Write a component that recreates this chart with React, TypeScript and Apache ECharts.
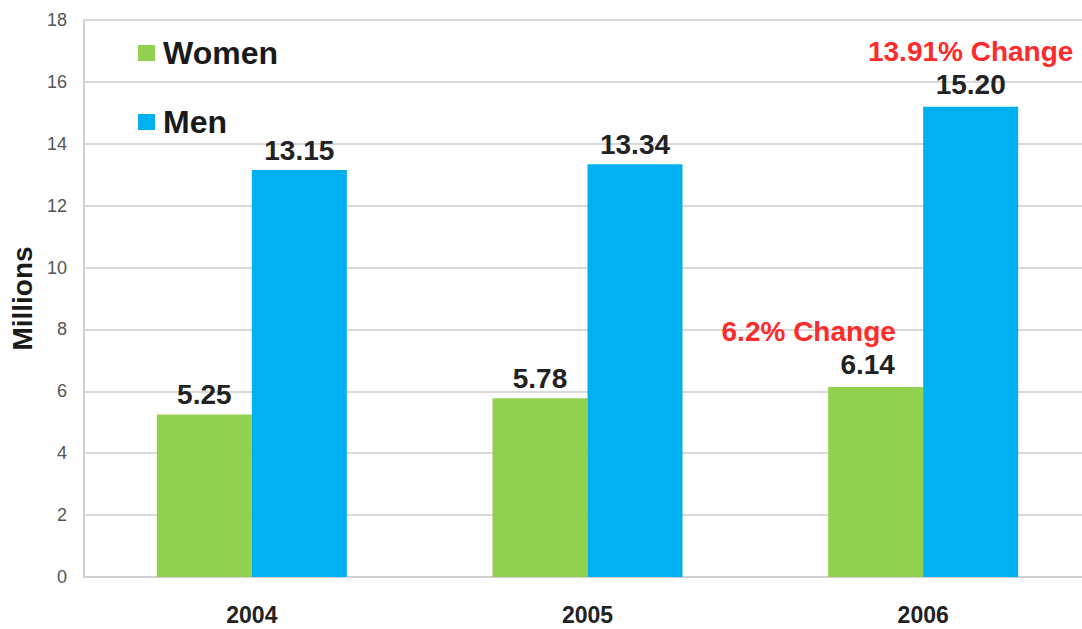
import React, { useEffect, useRef } from "react";
import * as echarts from "echarts";

const categories = ["2004", "2005", "2006"];
const womenValues = [5.25, 5.78, 6.14];
const menValues = [13.15, 13.34, 15.2];
const womenChange = ["", "", "6.2% Change"];
const menChange = ["", "", "13.91% Change"];
const yMin = 0;
const yMax = 18;
const yInterval = 2;

const FONT = "'Liberation Sans', Arial, Helvetica, sans-serif";
const GREEN = "#92d050";
const BLUE = "#00b0f0";
const RED = "#ff2a2a";

function buildData(values: number[], notes: string[], shiftNote: number, valueOffset: number) {
  return values.map((v, i) => {
    const item: any = { value: v };
    if (notes[i]) {
      item.label = {
        formatter: (p: any) => `{r|${notes[i]}}\n{v|${Number(p.value).toFixed(2)}}`,
        offset: [valueOffset, 0],
        rich: {
          r: {
            fontFamily: FONT,
            fontSize: 28,
            fontWeight: "bold",
            color: RED,
            lineHeight: 33,
            padding: [0, shiftNote, 0, 0],
          },
          v: {
            fontFamily: FONT,
            fontSize: 28,
            fontWeight: "bold",
            color: "#222",
            lineHeight: 33,
          },
        },
      };
    }
    return item;
  });
}

export default function App() {
  const ref = useRef<HTMLDivElement>(null);
  useEffect(() => {
    if (!ref.current) return;
    const chart = echarts.init(ref.current, undefined, { renderer: "svg" });
    const valueLabel = {
      show: true,
      position: "top",
      distance: 6,
      fontFamily: FONT,
      fontSize: 28,
      fontWeight: "bold",
      color: "#222",
      formatter: (p: any) => Number(p.value).toFixed(2),
    };
    chart.setOption({
      animation: false,
      backgroundColor: "#ffffff",
      textStyle: { fontFamily: FONT },
      grid: { left: 84, top: 20, right: 0, bottom: 52 },
      legend: {
        orient: "vertical",
        left: 133,
        top: 32,
        itemGap: 37,
        itemWidth: 17,
        itemHeight: 16,
        icon: "rect",
        selectedMode: false,
        data: ["Women", "Men"],
        textStyle: {
          fontFamily: FONT,
          fontSize: 32,
          fontWeight: "bold",
          color: "#1a1a1a",
          padding: [0, 0, 0, 3],
        },
      },
      xAxis: {
        type: "category",
        data: categories,
        axisLine: { show: true, lineStyle: { color: "#d0d0d0", width: 2 } },
        axisTick: { show: false },
        axisLabel: {
          margin: 26,
          fontFamily: FONT,
          fontSize: 23,
          fontWeight: "bold",
          color: "#222",
        },
      },
      yAxis: {
        type: "value",
        min: yMin,
        max: yMax,
        interval: yInterval,
        name: "Millions",
        nameLocation: "middle",
        nameGap: 44,
        nameRotate: 90,
        nameTextStyle: {
          fontFamily: FONT,
          fontSize: 28,
          fontWeight: "bold",
          color: "#1a1a1a",
        },
        axisLine: { show: true, lineStyle: { color: "#d0d0d0", width: 2 } },
        axisTick: { show: false },
        axisLabel: {
          margin: 17,
          fontFamily: FONT,
          fontSize: 18,
          color: "#555",
        },
        splitLine: { show: true, lineStyle: { color: "#d9d9d9", width: 2 } },
      },
      series: [
        {
          name: "Women",
          type: "bar",
          barWidth: 95,
          barGap: "0%",
          itemStyle: { color: GREEN },
          label: valueLabel,
          data: buildData(womenValues, womenChange, 118, -8),
        },
        {
          name: "Men",
          type: "bar",
          barWidth: 95,
          barGap: "0%",
          itemStyle: { color: BLUE },
          label: valueLabel,
          data: buildData(menValues, menChange, 0, 0),
        },
      ],
    });
    return () => chart.dispose();
  }, []);
  return (
    <div
      style={{
        position: "absolute",
        left: 0,
        top: 0,
        width: 1082,
        height: 629,
        overflow: "hidden",
        background: "#fff",
      }}
    >
      <div ref={ref} style={{ width: 1091, height: 629 }} />
    </div>
  );
}
